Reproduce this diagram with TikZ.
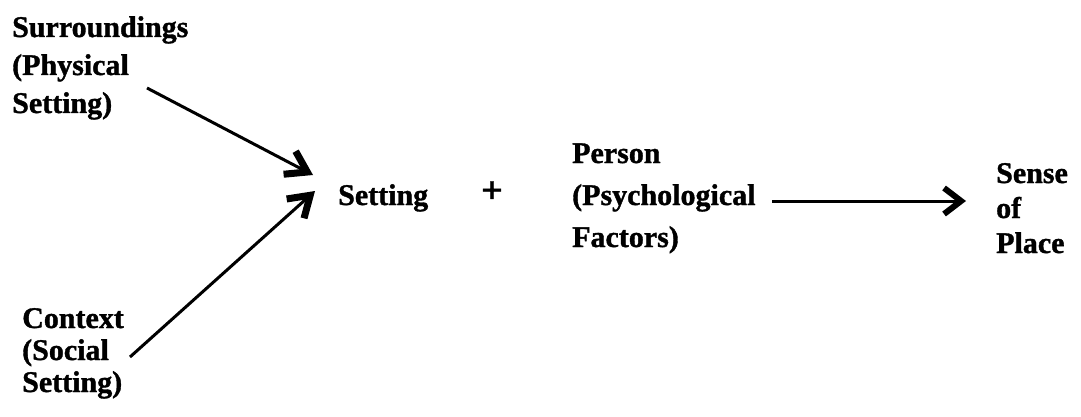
\documentclass[tikz,border=0pt]{standalone}
\usepackage{fontspec}
\setmainfont{Liberation Serif}[BoldFeatures={FakeBold=1.2}]
\usetikzlibrary{arrows.meta}
\newcommand{\mylines}[1]{\begin{tabular}[t]{@{}l@{}}#1\end{tabular}}
\begin{document}
\begin{tikzpicture}[x=1pt,y=-1pt,
  lbl/.style={anchor=base west, inner sep=0pt, font=\bfseries\fontsize{30}{#1}\selectfont},
  lbl/.default=36,
  conn/.style={line width=3pt, -{Straight Barb[length=20pt,width=26pt,line width=7pt]}},
  conn2/.style={line width=3pt, -{Straight Barb[length=17pt,width=26pt,line width=6pt]}}]
\useasboundingbox (0,0) rectangle (1081,417);
\node[lbl=38] (sur) at (12,37) {\mylines{Surroundings\\(Physical\\Setting)}};
\node[lbl=32] (ctx) at (22,328) {\mylines{Context\\(Social\\Setting)}};
\node[lbl] (set) at (338,205) {Setting};
\node[inner sep=0pt, font=\bfseries\fontsize{38}{40}\selectfont] (plus) at (492,192) {+};
\node[lbl=42] (per) at (572,163) {\mylines{Person\\(Psychological\\Factors)}};
\node[lbl=35] (sen) at (996,183) {\mylines{Sense\\of\\Place}};
\coordinate (a1s) at (147,88);
\coordinate (a1e) at (313,175);
\coordinate (a2s) at (130,357);
\coordinate (a2e) at (315,191);
\coordinate (a3s) at (772,201);
\coordinate (a3e) at (966,201);
\draw[conn] (a1s) -- (a1e);
\draw[conn] (a2s) -- (a2e);
\draw[conn2] (a3s) -- (a3e);
\end{tikzpicture}
\end{document}
